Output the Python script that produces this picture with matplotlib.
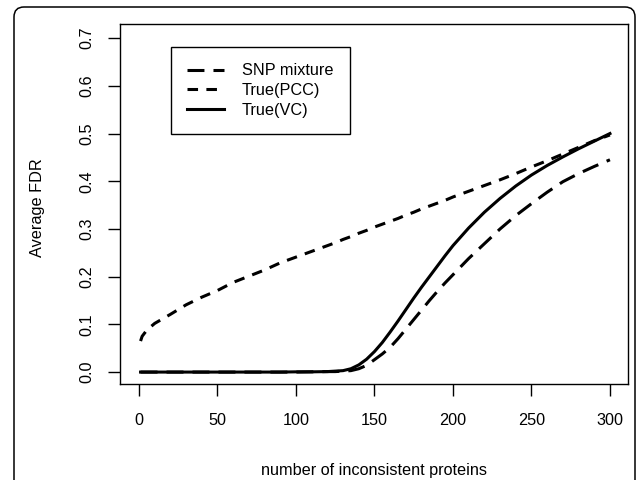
import matplotlib
matplotlib.use("Agg")
import matplotlib.pyplot as plt
from matplotlib.patches import FancyBboxPatch

plt.rcParams['font.family'] = ['Liberation Sans', 'DejaVu Sans']
plt.rcParams['lines.scale_dashes'] = False

# values
x_pts = [1, 2, 5, 10, 20, 30, 40, 50, 60, 70, 80, 90, 100, 110, 120, 125, 130, 135,
         140, 145, 150, 155, 160, 165, 170, 175, 180, 185, 190, 195, 200, 210, 220,
         230, 240, 250, 260, 270, 280, 290, 300]

snp_mixture = [0.0, 0.0, 0.0, 0.0, 0.0, 0.0, 0.0, 0.0, 0.0, 0.0, 0.0, 0.0, 0.0, 0.0005, 0.001,
               0.001, 0.002, 0.003, 0.007, 0.014, 0.026, 0.038, 0.052, 0.070, 0.090, 0.110,
               0.130, 0.150, 0.169, 0.187, 0.204, 0.238, 0.269, 0.300, 0.328, 0.353, 0.377,
               0.399, 0.416, 0.431, 0.445]

true_pcc = [0.065, 0.075, 0.088, 0.102, 0.121, 0.141, 0.157, 0.171, 0.188, 0.201, 0.214,
            0.229, 0.241, 0.253, 0.265, 0.271, 0.278, 0.284, 0.291, 0.297, 0.304, 0.310,
            0.316, 0.322, 0.329, 0.335, 0.342, 0.348, 0.354, 0.360, 0.367, 0.379, 0.391,
            0.403, 0.416, 0.430, 0.443, 0.457, 0.471, 0.485, 0.497]

true_vc = [0.0, 0.0, 0.0, 0.0, 0.0, 0.0, 0.0, 0.0, 0.0, 0.0, 0.0, 0.0, 0.0005, 0.0005, 0.001,
           0.002, 0.003, 0.007, 0.015, 0.027, 0.043, 0.062, 0.084, 0.107, 0.131, 0.155,
           0.178, 0.200, 0.222, 0.244, 0.265, 0.302, 0.335, 0.364, 0.390, 0.413, 0.433,
           0.451, 0.468, 0.484, 0.500]

x_ticks = [0, 50, 100, 150, 200, 250, 300]
y_ticks = [0.0, 0.1, 0.2, 0.3, 0.4, 0.5, 0.6, 0.7]

fs = 11.7
fig = plt.figure(figsize=(6.36, 4.8), dpi=100)
ax = fig.add_axes([120 / 636, 1 - 384 / 480, 508 / 636, 360 / 480])

lw = 2.2
ax.plot(x_pts, snp_mixture, color='black', lw=lw, linestyle=(0, (12.2, 6.5)), label='SNP mixture')
ax.plot(x_pts, true_pcc, color='black', lw=lw, linestyle=(0, (7.6, 6.0)), label='True(PCC)')
ax.plot(x_pts, true_vc, color='black', lw=lw, label='True(VC)')

ax.set_xlim(-12.1, 311.5)
ax.set_ylim(-0.025, 0.7296)
ax.set_xticks(x_ticks)
ax.set_xticklabels([str(v) for v in x_ticks])
ax.set_yticks(y_ticks)
ax.set_yticklabels(['%.1f' % v for v in y_ticks])

for s in ax.spines.values():
    s.set_linewidth(1.0)

ax.tick_params(axis='both', direction='out', length=8.6, width=1.0, labelsize=fs, colors='black')
ax.tick_params(axis='x', pad=12)
ax.tick_params(axis='y', pad=10, labelrotation=90)
for lab in ax.get_yticklabels():
    lab.set_va('center')

ax.set_xlabel('number of inconsistent proteins', fontsize=fs)
ax.xaxis.set_label_coords(0.5, -0.239)
ax.xaxis.label.set_va('center')
ax.set_ylabel('Average FDR', fontsize=fs)
ax.yaxis.set_label_coords(-0.163, 0.49)
ax.yaxis.label.set_va('center')

leg = ax.legend(loc='upper left', bbox_to_anchor=(0.1004, 0.936), borderaxespad=0,
                fontsize=fs, fancybox=False, edgecolor='black', framealpha=1,
                handlelength=2.27, handletextpad=1.1, borderpad=1.0, labelspacing=0.3)
leg.get_frame().set_linewidth(1.0)

# outer rounded frame
frame = FancyBboxPatch((0.14, -0.3), 6.21, 4.73 + 0.3,
                       boxstyle='round,pad=0,rounding_size=0.1',
                       transform=fig.dpi_scale_trans, fill=False,
                       edgecolor='black', lw=1.1, clip_on=False)
fig.add_artist(frame)

fig.savefig('out.png', dpi=100)
